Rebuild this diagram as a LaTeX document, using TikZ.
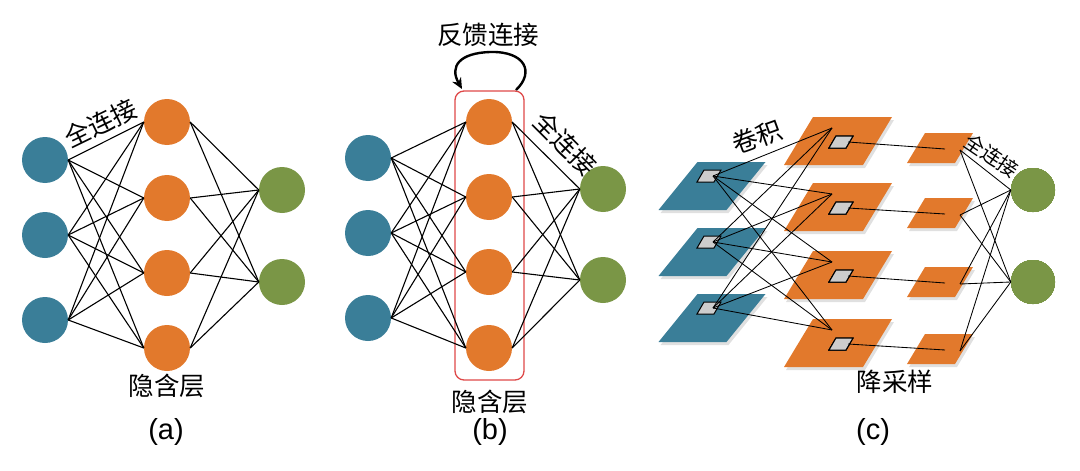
\documentclass[tikz,border=0pt]{standalone}
\usepackage{fontspec}
\setmainfont{Liberation Sans}
\newfontfamily\cjk{Noto Sans CJK SC}
\usetikzlibrary{arrows.meta}
\definecolor{cblue}{RGB}{58,126,152}
\definecolor{corange}{RGB}{226,121,44}
\definecolor{cgreen}{RGB}{122,150,70}
\definecolor{cred}{RGB}{222,72,72}
\definecolor{cgray}{RGB}{205,205,205}
\newcommand\pgram[6]{\fill[#6] (#1-#3/2+#5/2,#2-#4/2) -- ++(#3,0) -- ++(-#5,#4) -- ++(-#3,0) -- cycle;}
\newcommand\pgramd[6]{\filldraw[#6] (#1-#3/2+#5/2,#2-#4/2) -- ++(#3,0) -- ++(-#5,#4) -- ++(-#3,0) -- cycle;}
\begin{document}
\begin{tikzpicture}[x=1pt,y=-1pt,
  neuron/.style={circle,minimum size=46pt,inner sep=0pt},
  inb/.style={neuron,fill=cblue},
  hid/.style={neuron,fill=corange},
  outn/.style={neuron,fill=cgreen},
  conn/.style={draw=black,line width=1.1pt},
  cline/.style={draw=black,line width=0.85pt},
  lbl/.style={font=\cjk\fontsize{25.5}{25.5}\selectfont,inner sep=0pt},
  slbl/.style={font=\cjk\fontsize{20}{20}\selectfont,inner sep=0pt},
  pcap/.style={font=\fontsize{29}{29}\selectfont,inner sep=0pt},
  gsq/.style={fill=cgray,draw=black,line width=1pt},
  shadow/.style={fill=black,opacity=0.12}
]
\useasboundingbox (0,0) rectangle (1080,471);

% ---------------- panel (a)
\foreach \i/\y in {1/160,2/235,3/320} \node[inb] (a\i) at (45,\y) {};
\foreach \i/\y in {1/122,2/198,3/273,4/348} \node[hid] (ah\i) at (167,\y) {};
\foreach \i/\y in {1/190,2/282} \node[outn] (ao\i) at (282,\y) {};
\foreach \i in {1,2,3} \foreach \j in {1,...,4} \draw[conn] (a\i.east) -- (ah\j.west);
\foreach \j in {1,...,4} \foreach \k in {1,2} \draw[conn] (ah\j.east) -- (ao\k.west);
\node[lbl,rotate=26] (afc) at (101,123) {全连接};
\node[lbl] (ahl) at (167,386) {隐含层};
\node[pcap] (acap) at (166,432) {(a)};

% ---------------- panel (b)
\node[draw=cred,line width=1.3pt,rounded corners=9pt,minimum width=69pt,minimum height=289pt,inner sep=0pt] (box) at (489.5,235.5) {};
\foreach \i/\y in {1/158,2/233,3/318} \node[inb] (b\i) at (368,\y) {};
\foreach \i/\y in {1/122,2/197,3/272,4/348} \node[hid] (bh\i) at (489,\y) {};
\foreach \i/\y in {1/189,2/280} \node[outn] (bo\i) at (603,\y) {};
\foreach \i in {1,2,3} \foreach \j in {1,...,4} \draw[conn] (b\i.east) -- (bh\j.west);
\foreach \j in {1,...,4} \foreach \k in {1,2} \draw[conn] (bh\j.east) -- (bo\k.west);
\coordinate (fbs) at (516,90);
\coordinate (fbe) at (462,89);
\draw[line width=2.4pt,-{Stealth[length=11pt,width=10pt]}] (fbs) .. controls (535,72) and (525,51) .. (490,52) .. controls (460,53) and (449,66) .. (fbe);
\node[lbl] (fbl) at (488,35) {反馈连接};
\node[lbl,rotate=-45] (bfc) at (565,144) {全连接};
\node[lbl] (bhl) at (490,402) {隐含层};
\node[pcap] (bcap) at (490,432) {(b)};

% ---------------- panel (c)
% input maps (blue)
\foreach \i/\y in {1/186,2/252,3/318} {
  \pgram{714}{\y+3}{68}{48}{39}{shadow}
  \pgram{712}{\y}{68}{48}{39}{cblue}
  \coordinate (cb\i) at (713,\y-10);
}
% convolution maps (large orange)
\foreach \i/\y in {1/141,2/207,3/275,4/343} {
  \pgram{840}{\y+3}{79}{48}{29}{shadow}
  \pgram{838}{\y}{79}{48}{29}{corange}
  \coordinate (cc\i) at (832,\y-13);
  \coordinate (cq\i) at (848,\y+1);
}
% pooled maps (small orange)
\foreach \i/\y in {1/148,2/213,3/282,4/349} {
  \pgram{942}{\y+3}{48}{30}{18}{shadow}
  \pgram{940}{\y}{48}{30}{18}{corange}
  \coordinate (cp\i) at (945,\y+1);
  \coordinate (cf\i) at (960,\y+2);
}
% gray kernels
\foreach \i/\y in {1/176,2/242,3/308} \pgramd{709}{\y}{17}{12}{7}{gsq}
\foreach \i/\y in {1/142,2/208,3/276,4/344} \pgramd{841}{\y}{17}{12}{7}{gsq}
% outputs
\foreach \i/\y in {1/190,2/282} \node[neuron,minimum size=44pt,fill=cgreen] (co\i) at (1033,\y) {};
% connections
\foreach \i in {1,2,3} \foreach \j in {1,...,4} \draw[cline] (cb\i) -- (cc\j);
\foreach \j in {1,...,4} \draw[cline] (cq\j) -- (cp\j);
\foreach \j in {1,...,4} \foreach \k in {1,2} \draw[cline] (cf\j) -- (co\k.west);
\node[lbl,rotate=20] (cconv) at (757,137) {卷积};
\node[slbl,rotate=-34] (cfc) at (992,156) {全连接};
\node[lbl] (cpool) at (895,382) {降采样};
\node[pcap] (ccap) at (873,432) {(c)};
\end{tikzpicture}
\end{document}
